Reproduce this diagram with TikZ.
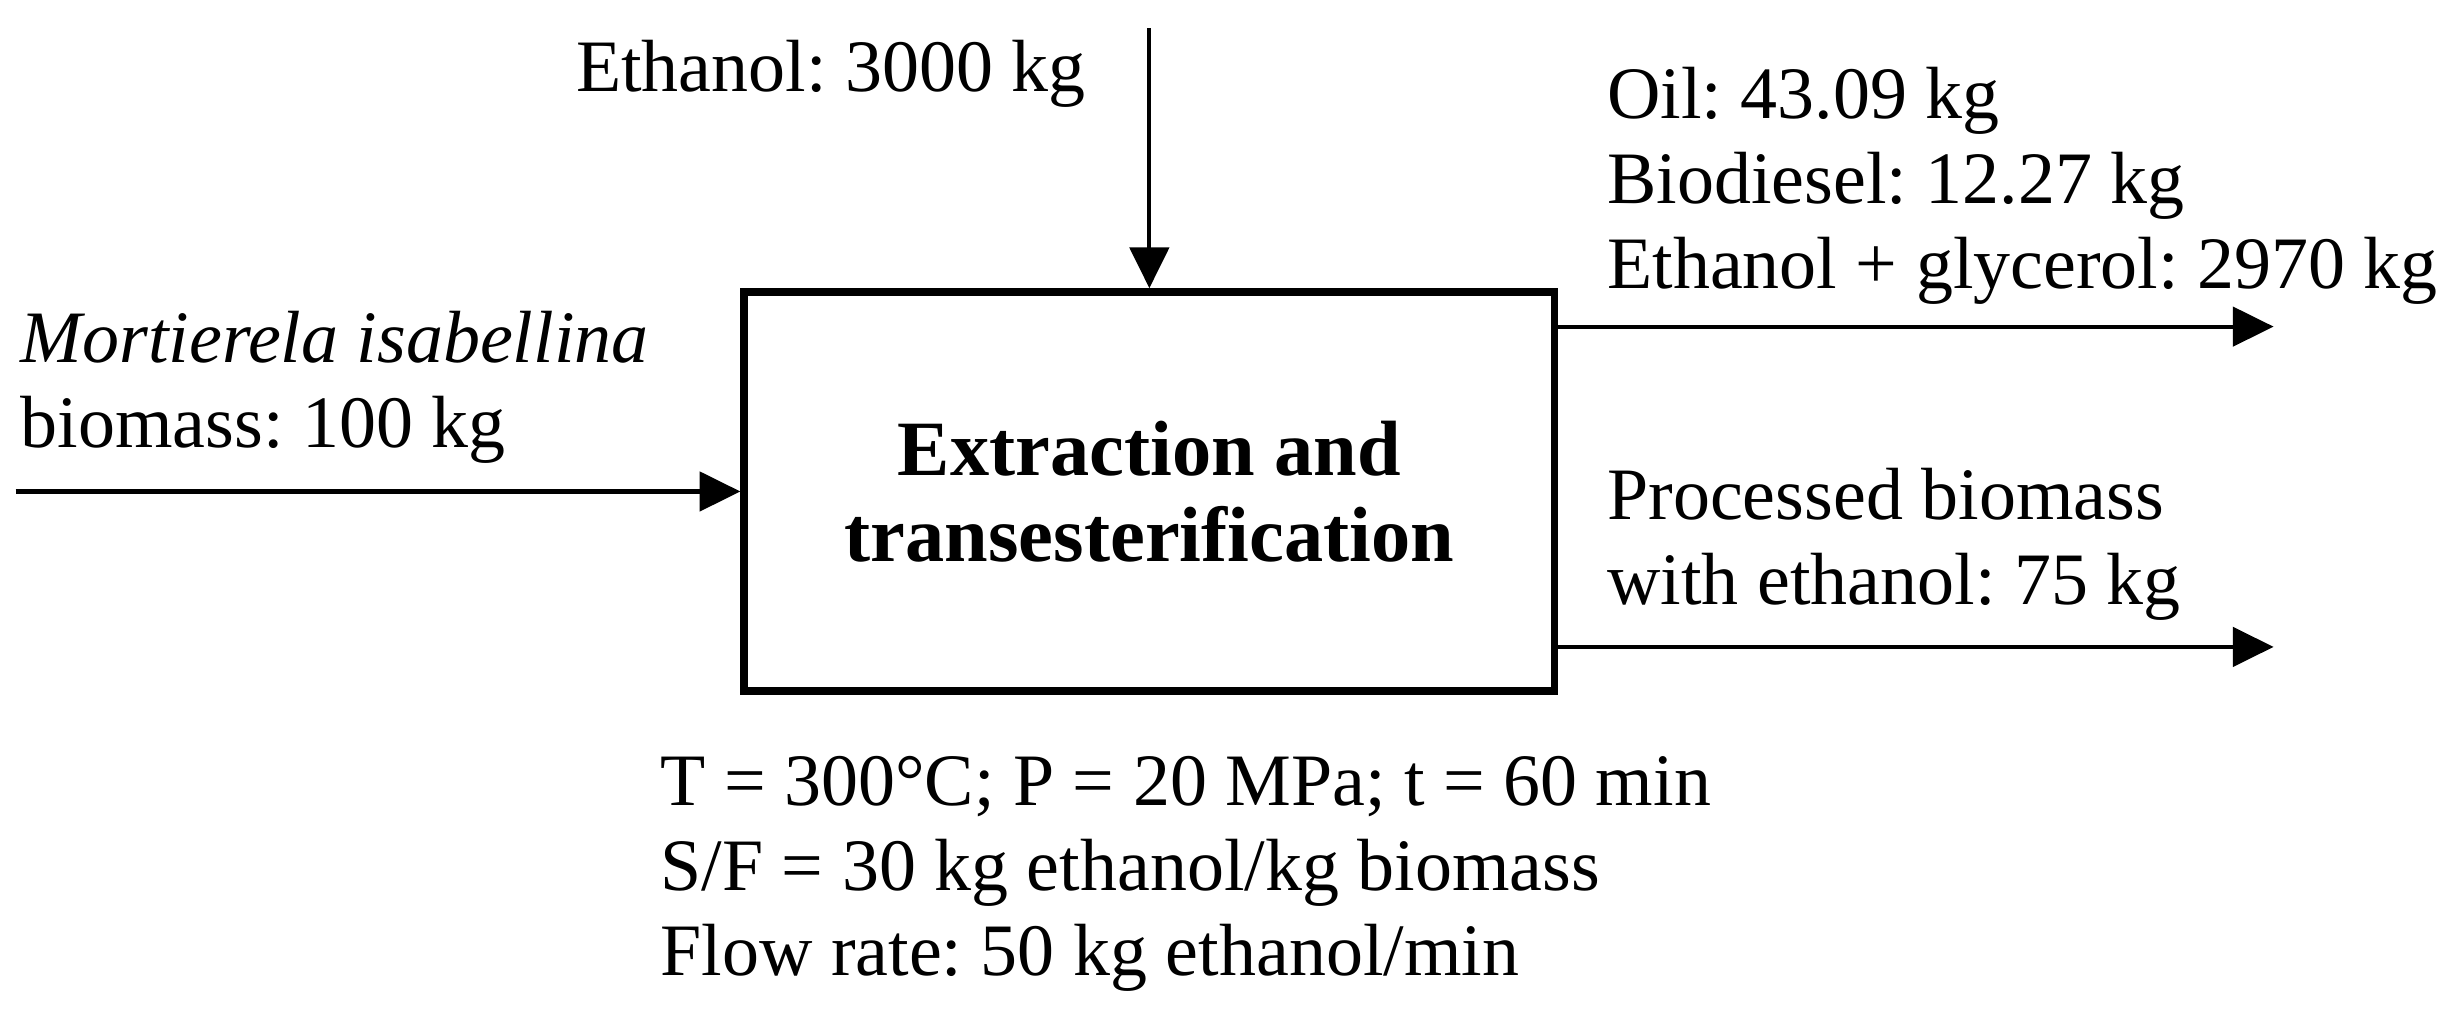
\documentclass[tikz,border=0pt]{standalone}
\usepackage{fontspec}
\setmainfont{Liberation Serif}
\usetikzlibrary{arrows.meta}
\frenchspacing

\begin{document}
\begin{tikzpicture}[
    process/.style={rectangle, draw, line width=1.4pt, minimum width=5.16cm, minimum height=2.54cm, align=center, font=\fontsize{14.2}{15.6}\selectfont\bfseries},
    stream/.style={-{Triangle[length=2.6mm, width=2.5mm]}, line width=0.75pt},
    flowtext/.style={align=left, inner sep=0pt, font=\fontsize{13.4}{15.4}\selectfont}
]
    \useasboundingbox (0,0) rectangle (15.68,6.54);

    \node[process] (reactor) at (7.32,3.41) {Extraction and\\transesterification};

    \coordinate (feed) at (0.10,3.41);
    \coordinate (solvent) at (7.32,6.36);
    \coordinate (extract) at (14.48,4.46);
    \coordinate (residue) at (14.48,2.42);

    \draw[stream] (feed) -- (reactor);
    \draw[stream] (solvent) -- (reactor);
    \draw[stream] (reactor.east |- extract) -- (extract);
    \draw[stream] (reactor.east |- residue) -- (residue);

    % base anchor = baseline of the last line
    \node[flowtext, anchor=base east] (solventtext) at (6.92,5.96) {Ethanol: 3000 kg};
    \node[flowtext, anchor=base west] (feedtext) at (0.125,3.69) {\textit{Mortierela isabellina}\\biomass: 100 kg};
    \node[flowtext, anchor=base west] (extracttext) at (10.23,4.70) {Oil: 43.09 kg\\Biodiesel: 12.27 kg\\Ethanol + glycerol: 2970 kg};
    \node[flowtext, anchor=base west] (residuetext) at (10.23,2.69) {Processed biomass\\with ethanol: 75 kg};
    \node[flowtext, anchor=base west] (conditions) at (4.20,0.33) {T = 300°C; P = 20 MPa; t = 60 min\\S/F = 30 kg ethanol/kg biomass\\Flow rate: 50 kg ethanol/min};
\end{tikzpicture}
\end{document}
